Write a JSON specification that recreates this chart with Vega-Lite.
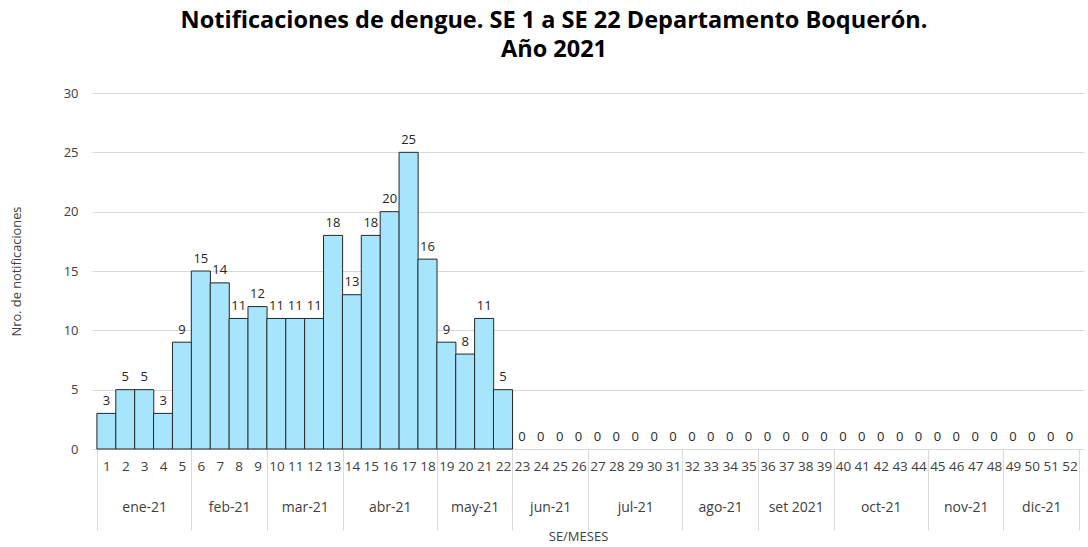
{
  "$schema": "https://vega.github.io/schema/vega-lite/v6.json",
  "width": 992,
  "height": 356,
  "autosize": "none",
  "padding": {"left": 92, "top": 93, "right": 4, "bottom": 98},
  "background": "white",
  "config": {"view": {"stroke": null}, "font": "Open Sans"},
  "title": {
    "text": ["Notificaciones de dengue. SE 1 a SE 22 Departamento Boquerón.", "Año 2021"],
    "fontSize": 23.5,
    "fontWeight": "bold",
    "font": "Open Sans",
    "color": "#000000",
    "anchor": "middle",
    "dx": -34,
    "offset": 26,
    "lineHeight": 29
  },
  "datasets": {
    "weeks": [
      {"se": 1, "n": 3}, {"se": 2, "n": 5}, {"se": 3, "n": 5}, {"se": 4, "n": 3},
      {"se": 5, "n": 9}, {"se": 6, "n": 15}, {"se": 7, "n": 14}, {"se": 8, "n": 11},
      {"se": 9, "n": 12}, {"se": 10, "n": 11}, {"se": 11, "n": 11}, {"se": 12, "n": 11},
      {"se": 13, "n": 18}, {"se": 14, "n": 13}, {"se": 15, "n": 18}, {"se": 16, "n": 20},
      {"se": 17, "n": 25}, {"se": 18, "n": 16}, {"se": 19, "n": 9}, {"se": 20, "n": 8},
      {"se": 21, "n": 11}, {"se": 22, "n": 5}, {"se": 23, "n": 0}, {"se": 24, "n": 0},
      {"se": 25, "n": 0}, {"se": 26, "n": 0}, {"se": 27, "n": 0}, {"se": 28, "n": 0},
      {"se": 29, "n": 0}, {"se": 30, "n": 0}, {"se": 31, "n": 0}, {"se": 32, "n": 0},
      {"se": 33, "n": 0}, {"se": 34, "n": 0}, {"se": 35, "n": 0}, {"se": 36, "n": 0},
      {"se": 37, "n": 0}, {"se": 38, "n": 0}, {"se": 39, "n": 0}, {"se": 40, "n": 0},
      {"se": 41, "n": 0}, {"se": 42, "n": 0}, {"se": 43, "n": 0}, {"se": 44, "n": 0},
      {"se": 45, "n": 0}, {"se": 46, "n": 0}, {"se": 47, "n": 0}, {"se": 48, "n": 0},
      {"se": 49, "n": 0}, {"se": 50, "n": 0}, {"se": 51, "n": 0}, {"se": 52, "n": 0}
    ],
    "months": [
      {"mes": "ene-21", "mid": 3}, {"mes": "feb-21", "mid": 7.5}, {"mes": "mar-21", "mid": 11.5},
      {"mes": "abr-21", "mid": 16}, {"mes": "may-21", "mid": 20.5}, {"mes": "jun-21", "mid": 24.5},
      {"mes": "jul-21", "mid": 29}, {"mes": "ago-21", "mid": 33.5}, {"mes": "set 2021", "mid": 37.5},
      {"mes": "oct-21", "mid": 42}, {"mes": "nov-21", "mid": 46.5}, {"mes": "dic-21", "mid": 50.5}
    ]
  },
  "layer": [
    {
      "data": {"name": "weeks"},
      "mark": {"type": "bar", "width": {"expr": "width/52"}, "fill": "#a6e5fc", "strokeWidth": 1},
      "encoding": {
        "x": {
          "field": "se", "type": "quantitative",
          "scale": {"domain": [0.5, 52.5], "nice": false, "zero": false},
          "axis": {
            "orient": "bottom",
            "values": [1,2,3,4,5,6,7,8,9,10,11,12,13,14,15,16,17,18,19,20,21,22,23,24,25,26,27,28,29,30,31,32,33,34,35,36,37,38,39,40,41,42,43,44,45,46,47,48,49,50,51,52],
            "format": "d",
            "ticks": false, "domain": false, "grid": false,
            "labelPadding": 10, "labelFontSize": 13.5, "labelColor": "#404040",
            "labelFont": "Open Sans", "labelOverlap": false, "labelFlush": false,
            "title": null
          }
        },
        "y": {
          "field": "n", "type": "quantitative",
          "scale": {"domain": [0, 30], "nice": false},
          "axis": {
            "orient": "left",
            "values": [0, 5, 10, 15, 20, 25, 30],
            "ticks": false, "domain": false,
            "grid": true, "gridColor": "#d9d9d9", "gridWidth": 1,
            "labelPadding": 14, "labelFontSize": 13, "labelColor": "#404040", "labelFont": "Open Sans",
            "title": "Nro. de notificaciones", "titleFontSize": 12.8, "titleFontWeight": "normal",
            "titleColor": "#404040", "titlePadding": 40, "titleFont": "Open Sans"
          }
        },
        "stroke": {"condition": {"test": "datum.n > 0", "value": "#262626"}, "value": null}
      }
    },
    {
      "data": {"name": "weeks"},
      "mark": {"type": "text", "baseline": "alphabetic", "dy": -8.5, "fontSize": 13, "color": "#262626", "font": "Open Sans"},
      "encoding": {
        "x": {"field": "se", "type": "quantitative", "axis": null},
        "y": {"field": "n", "type": "quantitative"},
        "text": {"field": "n", "type": "quantitative"}
      }
    },
    {
      "data": {"name": "months"},
      "mark": {"type": "text", "opacity": 0},
      "encoding": {
        "x": {
          "field": "mid", "type": "quantitative",
          "axis": {
            "orient": "bottom",
            "values": [3, 7.5, 11.5, 16, 20.5, 24.5, 29, 33.5, 37.5, 42, 46.5, 50.5],
            "labelExpr": "['ene-21','feb-21','mar-21','abr-21','may-21','jun-21','jul-21','ago-21','set 2021','oct-21','nov-21','dic-21'][indexof([3,7.5,11.5,16,20.5,24.5,29,33.5,37.5,42,46.5,50.5], datum.value)]",
            "ticks": false, "domain": false, "grid": false,
            "labelPadding": 51, "labelFontSize": 14, "labelColor": "#404040",
            "labelFont": "Open Sans", "labelOverlap": false, "labelFlush": false,
            "title": "SE/MESES", "titleFontSize": 13, "titleFontWeight": "normal",
            "titleColor": "#404040", "titlePadding": 16, "titleFont": "Open Sans", "titleX": 486
          }
        },
        "text": {"field": "mes", "type": "nominal"}
      }
    },
    {
      "data": {"name": "months"},
      "mark": {"type": "text", "opacity": 0},
      "encoding": {
        "x": {
          "field": "mid", "type": "quantitative",
          "axis": {
            "orient": "bottom",
            "values": [0.5, 5.5, 9.5, 13.5, 18.5, 22.5, 26.5, 31.5, 35.5, 39.5, 44.5, 48.5, 52.5],
            "labels": false, "domain": false, "grid": false,
            "ticks": true, "tickSize": 81, "tickColor": "#d9d9d9", "tickWidth": 1,
            "title": null
          }
        },
        "text": {"field": "mes", "type": "nominal"}
      }
    }
  ],
  "resolve": {"axis": {"x": "independent", "y": "shared"}}
}
